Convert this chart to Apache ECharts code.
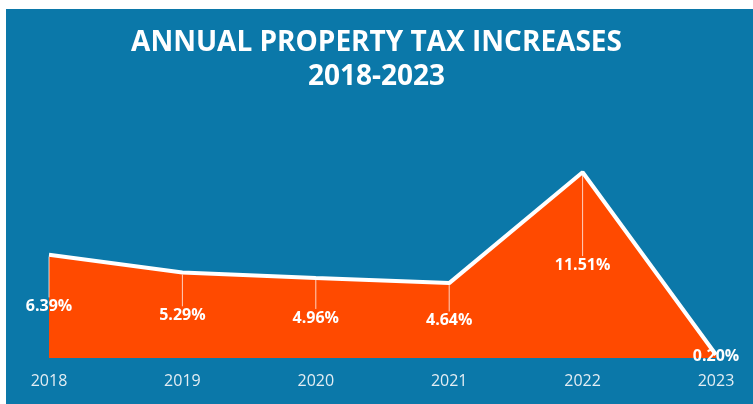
<!DOCTYPE html>
<html>
<head>
<meta charset="utf-8">
<script src="https://cdn.jsdelivr.net/npm/echarts@6/dist/echarts.min.js"></script>
<style>
html,body{margin:0;padding:0;background:#fff;}
#chart{width:753px;height:404px;}
</style>
</head>
<body>
<div id="chart"></div>
<script>
const titleLines = ['ANNUAL PROPERTY TAX INCREASES', '2018-2023'];
const years = ['2018', '2019', '2020', '2021', '2022', '2023'];
const increases = [6.39, 5.29, 4.96, 4.64, 11.51, 0.20];

const chart = echarts.init(document.getElementById('chart'));
const labelFont = "bold 16px 'Open Sans'";

chart.setOption({
  backgroundColor: '#ffffff',
  animation: false,
  graphic: [{
    type: 'rect',
    left: 6, top: 9,
    shape: { width: 747, height: 395 },
    style: { fill: '#0b78a9' },
    z: -10
  }],
  title: {
    text: titleLines.join('\n'),
    left: 'center',
    top: 21,
    textStyle: {
      color: '#ffffff',
      fontFamily: "'Open Sans'",
      fontWeight: 'bold',
      fontSize: 28,
      lineHeight: 34
    }
  },
  grid: { left: 49, right: 37, top: 132, bottom: 46 },
  xAxis: {
    type: 'category',
    data: years,
    boundaryGap: false,
    axisLine: { show: false },
    axisTick: { show: false },
    axisLabel: { color: '#e3edf3', fontFamily: "'Open Sans'", fontSize: 16, margin: 15 }
  },
  yAxis: {
    type: 'value',
    min: 0, max: 14,
    show: false,
    splitLine: { show: false }
  },
  series: [
    {
      type: 'line',
      data: increases,
      symbol: 'none',
      lineStyle: { color: '#ffffff', width: 4 },
      areaStyle: { color: '#ff4a00', opacity: 1 },
      z: 2
    },
    {
      type: 'custom',
      data: increases.map((v, i) => [i, v]),
      z: 5,
      renderItem: function (params, api) {
        const idx = api.value(0);
        const v = api.value(1);
        const p = api.coord([idx, v]);
        const m = api.coord([idx, v / 2]);
        const children = [];
        if (m[1] - 9 > p[1] + 3) {
          children.push({
            type: 'line',
            shape: { x1: p[0], y1: p[1] + 2, x2: p[0], y2: m[1] - 9 },
            style: { stroke: 'rgba(255,255,255,0.75)', lineWidth: 1 }
          });
        }
        children.push({
          type: 'text',
          style: {
            text: v.toFixed(2) + '%',
            x: m[0], y: m[1],
            align: 'center', verticalAlign: 'middle',
            fill: '#ffffff',
            font: labelFont
          }
        });
        return { type: 'group', children: children };
      }
    }
  ]
});
</script>
</body>
</html>
